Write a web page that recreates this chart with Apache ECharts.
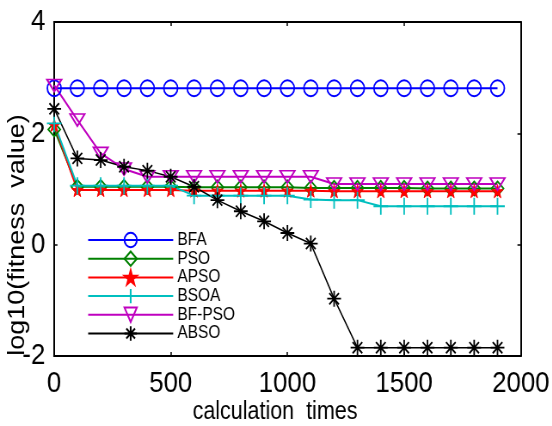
<!DOCTYPE html>
<html>
<head>
<meta charset="utf-8">
<script src="https://cdn.jsdelivr.net/npm/echarts@6/dist/echarts.min.js"></script>
<style>
html, body { margin: 0; padding: 0; background: #fff; overflow: hidden; }
/* the source figure is squeezed sideways, so draw wider and squeeze it back */
#container { width: 642px; height: 426px; transform: scaleX(0.86); transform-origin: 0 0; }
</style>
</head>
<body>
<div id="container"></div>
<script>
// calculation times (x) and log10 fitness for each algorithm
var iters = [1, 100, 200, 300, 400, 500, 600, 700, 800, 900, 1000, 1100, 1200, 1300, 1400, 1500, 1600, 1700, 1800, 1900]
var bfa   = [2.81, 2.81, 2.81, 2.81, 2.81, 2.81, 2.81, 2.81, 2.81, 2.81, 2.81, 2.81, 2.81, 2.81, 2.81, 2.81, 2.81, 2.81, 2.81, 2.81]
var pso   = [2.07, 1.04, 1.04, 1.04, 1.04, 1.04, 1.03, 1.03, 1.03, 1.03, 1.03, 1.02, 1.02, 1.02, 1.02, 1.02, 1.01, 1.01, 1.01, 1.01]
var apso  = [2.15, 0.98, 0.98, 0.98, 0.98, 0.98, 0.97, 0.97, 0.97, 0.97, 0.97, 0.97, 0.96, 0.96, 0.96, 0.96, 0.96, 0.96, 0.96, 0.96]
var bsoa  = [2.18, 1.06, 1.06, 1.06, 1.06, 1.06, 0.88, 0.88, 0.88, 0.88, 0.88, 0.81, 0.80, 0.80, 0.69, 0.69, 0.69, 0.69, 0.69, 0.69]
var bfpso = [2.86, 2.24, 1.64, 1.36, 1.22, 1.22, 1.22, 1.22, 1.22, 1.22, 1.22, 1.22, 1.09, 1.09, 1.09, 1.09, 1.09, 1.09, 1.09, 1.09]
var abso  = [2.44, 1.55, 1.52, 1.40, 1.33, 1.22, 1.04, 0.80, 0.60, 0.42, 0.21, 0.02, -0.97, -1.85, -1.85, -1.85, -1.85, -1.85, -1.85, -1.85]
var xTicks = [0, 500, 1000, 1500, 2000]
var yTicks = [-2, 0, 2, 4]

var dom = document.getElementById("container")
var myChart = echarts.init(dom)
var option

var FONT = "'Liberation Sans', Arial, sans-serif"
var SX = 0.86 //horizontal squeeze of the page

//markers like matlab
var STAR = 'path://M50,0 L61,35 L98,35 L68,57 L79,91 L50,70 L21,91 L32,57 L2,35 L39,35 Z'
var ASTER = 'path://M50,0 L50,100 M0,50 L100,50 M15,15 L85,85 M15,85 L85,15'
var PLUS = 'path://M50,0 L50,100 M0,50 L100,50'
var TRI = 'path://M0,0 L100,0 L50,80 Z'

function pairs(ys) {
    var out = []
    for (var i = 0; i < iters.length; i++) {
        out.push([iters[i], ys[i]])
    }
    return out
}

function makeSeries(name, ys, color, symbol, size, filled, lw) {
    return {
        name: name,
        type: 'line',
        data: pairs(ys),
        symbol: symbol,
        symbolSize: size,
        showAllSymbol: true,
        animation: false,
        lineStyle: { color: color, width: lw || 2 },
        itemStyle: {
            color: filled ? color : 'rgba(0,0,0,0)',
            borderColor: color,
            borderWidth: filled ? 1 : 1.8
        },
        emphasis: { disabled: true }
    }
}

function axisCommon() {
    return {
        axisLine: { onZero: false, lineStyle: { color: '#000', width: 2 } },
        axisTick: { inside: true, length: 4, lineStyle: { color: '#000', width: 1.5 } },
        splitLine: { show: false }
    }
}

var xMain = Object.assign(axisCommon(), {
    type: 'value', min: xTicks[0], max: xTicks[xTicks.length - 1], interval: 500,
    position: 'bottom',
    axisLabel: { fontSize: 30, color: '#000', fontFamily: FONT, margin: 13, formatter: function (v) { return String(v) } }
})
var xTop = Object.assign(axisCommon(), {
    type: 'value', min: xTicks[0], max: xTicks[xTicks.length - 1], interval: 500,
    position: 'top', axisLabel: { show: false }
})
var yMain = Object.assign(axisCommon(), {
    type: 'value', min: yTicks[0], max: yTicks[yTicks.length - 1], interval: 2,
    position: 'left',
    axisLabel: { fontSize: 30, color: '#000', fontFamily: FONT, margin: 10 }
})
var yRight = Object.assign(axisCommon(), {
    type: 'value', min: yTicks[0], max: yTicks[yTicks.length - 1], interval: 2,
    position: 'right', axisLabel: { show: false }
})

option = {
    backgroundColor: '#fff',
    animation: false,
    grid: { left: 54 / SX, right: 31 / SX + (642 - 552 / SX), top: 22, bottom: 70 },
    xAxis: [xMain, xTop],
    yAxis: [yMain, yRight],
    legend: {
        orient: 'vertical',
        left: 83 / SX,
        top: 226,
        itemWidth: 85 / SX,
        itemHeight: 18,
        itemGap: 0.7,
        textStyle: { fontSize: 18, color: '#000', fontFamily: FONT },
        data: ['BFA', 'PSO', 'APSO', 'BSOA', 'BF-PSO', 'ABSO']
    },
    series: [
        makeSeries('BFA', bfa, '#0000ff', 'circle', 16, false),
        makeSeries('PSO', pso, '#008000', 'diamond', 14, false),
        makeSeries('APSO', apso, '#ff0000', STAR, 13, true),
        makeSeries('BSOA', bsoa, '#00bfbf', PLUS, 17, false),
        makeSeries('BF-PSO', bfpso, '#bf00bf', TRI, [17, 12], false),
        makeSeries('ABSO', abso, '#000000', ASTER, 16, false, 1.5)
    ],
    graphic: [
        {
            type: 'text', x: 275 / SX, y: 412,
            style: { text: 'calculation  times', font: "25px " + FONT, fill: '#000', align: 'center', verticalAlign: 'middle' }
        },
        {
            type: 'text', x: 18 / SX, y: 235, rotation: Math.PI / 2,
            style: { text: 'log10(fitness  value)', font: "27px " + FONT, fill: '#000', align: 'center', verticalAlign: 'middle' }
        }
    ]
}

myChart.setOption(option)
</script>
</body>
</html>
